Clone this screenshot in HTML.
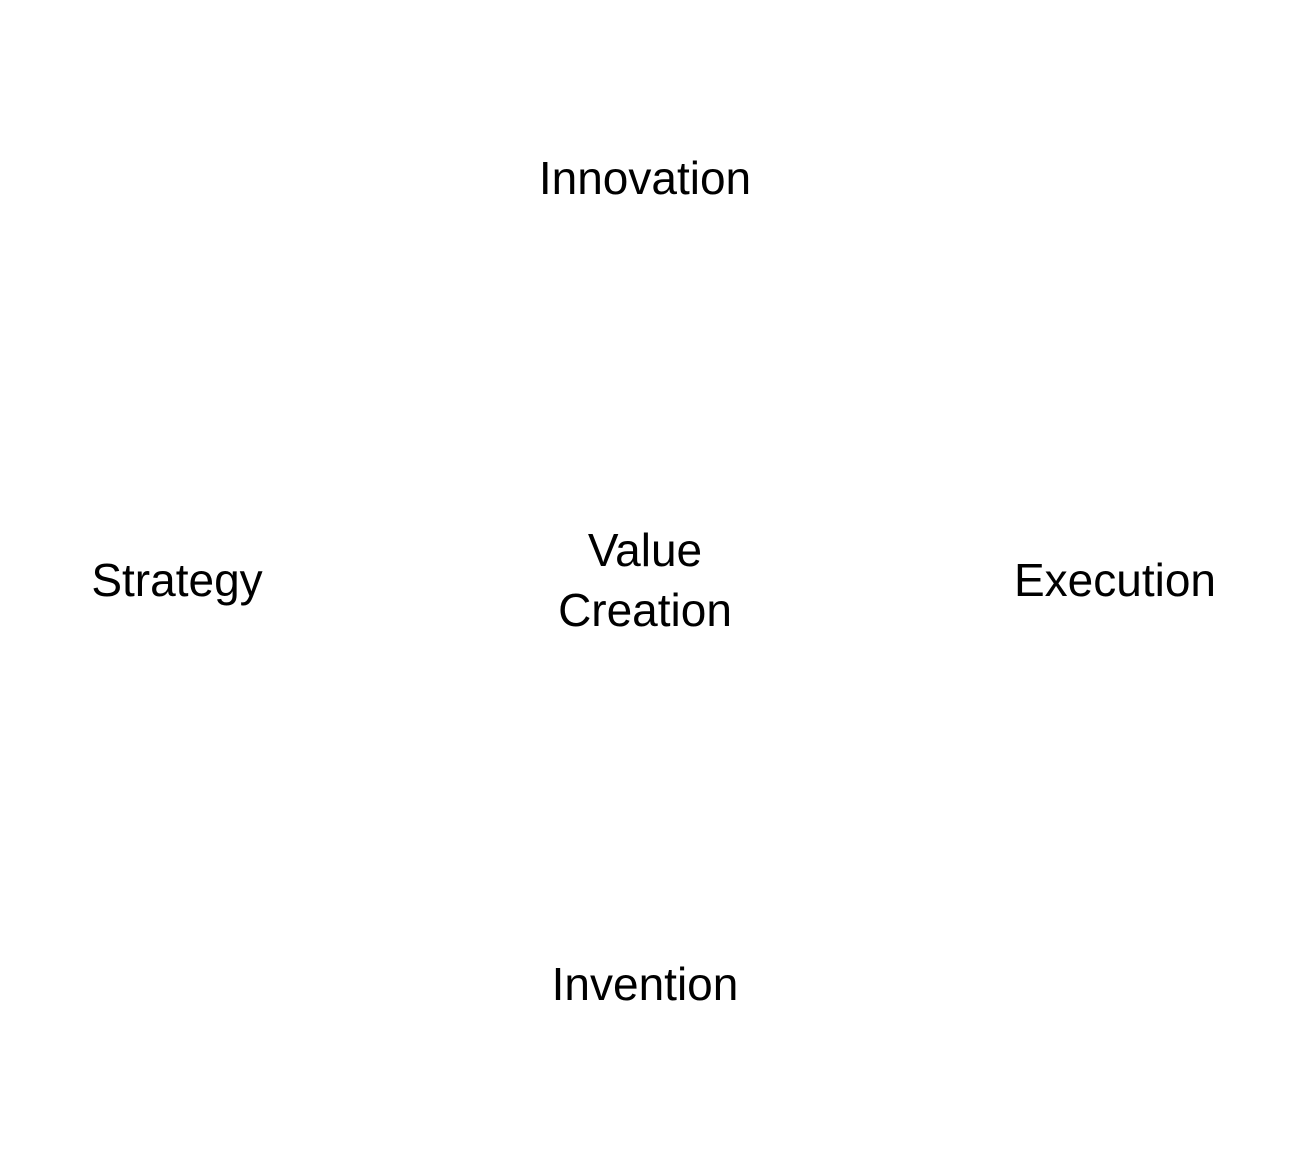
<!DOCTYPE html>
<html>
<head>
<meta charset="utf-8">
<style>
html,body{margin:0;padding:0;background:#fff;}
svg{display:block;}
text{font-family:"Liberation Sans",sans-serif;font-size:46px;fill:#000;}
</style>
</head>
<body>
<svg width="1293" height="1161" viewBox="0 0 1293 1161" xmlns="http://www.w3.org/2000/svg">
<rect width="1293" height="1161" fill="#fff"/>
<text x="645" y="194" text-anchor="middle">Innovation</text>
<text x="177" y="596" text-anchor="middle">Strategy</text>
<text x="1115" y="596" text-anchor="middle">Execution</text>
<text x="645" y="566" text-anchor="middle">Value</text>
<text x="645" y="626" text-anchor="middle">Creation</text>
<text x="645" y="1000" text-anchor="middle">Invention</text>
</svg>
</body>
</html>
